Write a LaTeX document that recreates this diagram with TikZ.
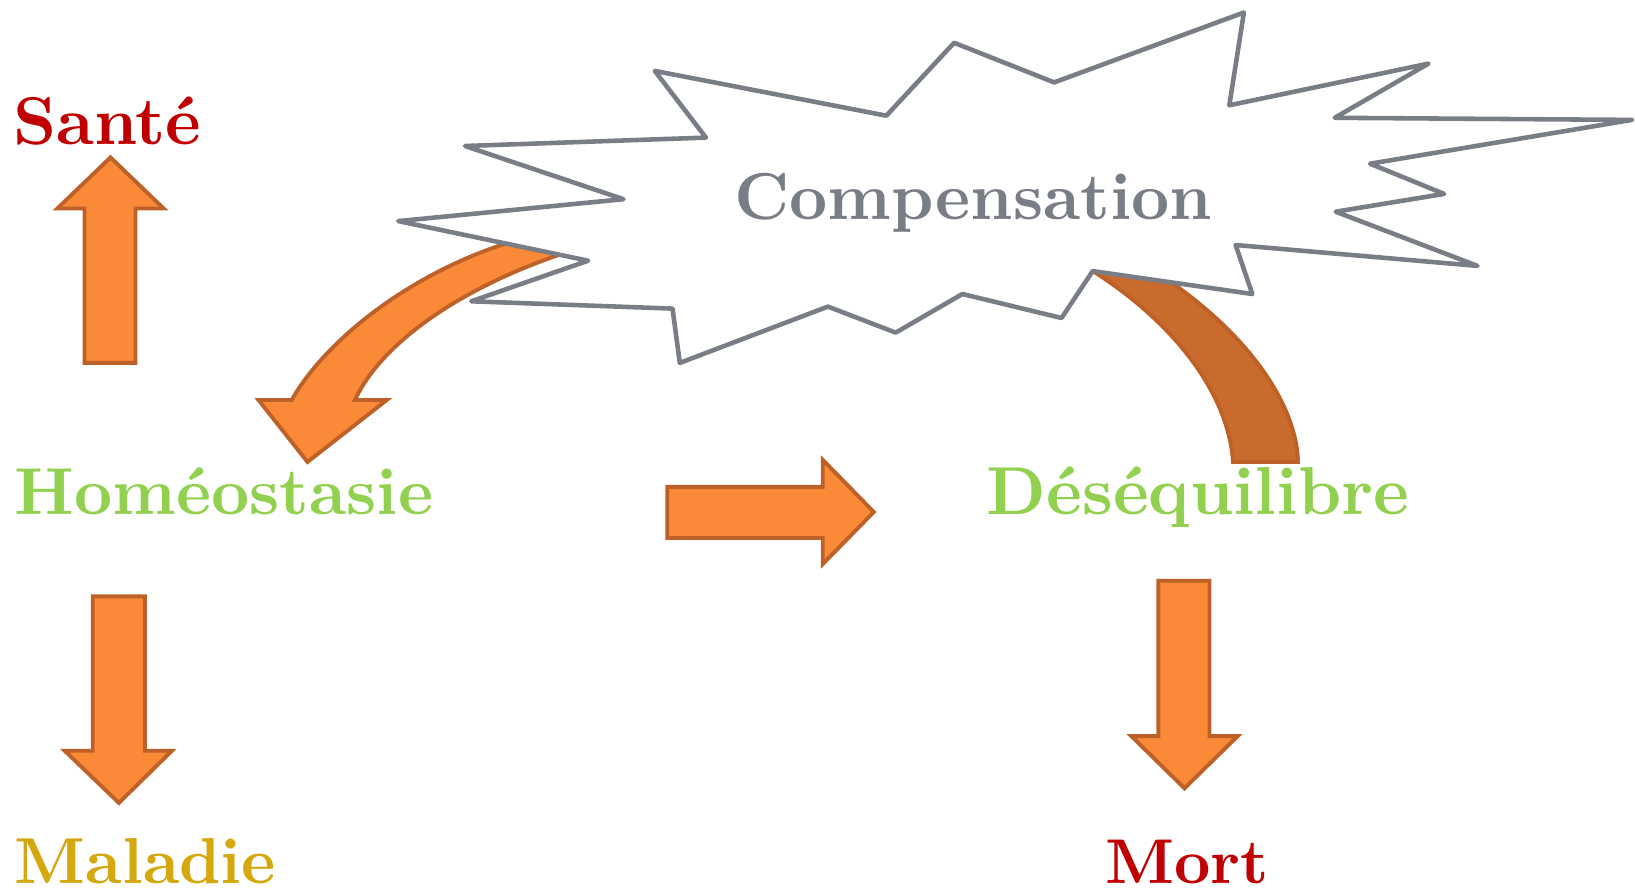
\documentclass[tikz,border=0pt]{standalone}
\usepackage{fontspec}
\newfontfamily\termfont{lmroman10-bold.otf}
\usepackage{tikz}
\usetikzlibrary{arrows.meta}
\usepackage{xcolor}
\definecolor{arrowfill}{HTML}{FA8A37}
\definecolor{arrowline}{HTML}{BD6128}
\definecolor{arrowdark}{HTML}{C96B2C}
\definecolor{burstline}{HTML}{787D86}
\definecolor{healthred}{HTML}{C00000}
\definecolor{balancegreen}{HTML}{92D050}
\definecolor{illgold}{HTML}{D4A80E}

\begin{document}
\begin{tikzpicture}[x=0.02cm,y=-0.02cm,line join=round,
  term/.style={inner sep=0pt,anchor=base west,font=\termfont\fontsize{#1}{40}\selectfont},
  term/.default=37.8,
  blockarrow/.style={fill=arrowfill,draw=arrowline,line width=2.2pt,line join=miter},
  burst/.style={fill=white,draw=burstline,line width=2.6pt}]
\useasboundingbox (0,0) rectangle (1635,892);
% curved arrows, under the burst
\draw[blockarrow] (291.7,400) .. controls (325,340) and (420,262) .. (540,234) -- (580,248)
  .. controls (460,285) and (380,345) .. (355,400) -- (386.8,400) -- (307.5,462) -- (258.5,400) -- cycle;
\draw[blockarrow,fill=arrowdark] (1233,462) .. controls (1228,390) and (1170,320) .. (1092.7,271) -- (1150,268)
  .. controls (1255,335) and (1297,410) .. (1298,462) -- cycle;
% burst
\draw[burst] (654.8,70.9) -- (705.9,137.6) -- (465.0,146.0) -- (623.5,199.2) -- (398.3,221.1)
  -- (588.1,260.7) -- (471.3,301.3) -- (672.5,308.6) -- (679.8,362.9) -- (827.9,306.6)
  -- (895.7,332.6) -- (962.4,294.0) -- (1061.5,318.0) -- (1092.7,271.1) -- (1252.3,294.0)
  -- (1235.6,245.0) -- (1477.5,265.9) -- (1335.7,211.7) -- (1444.1,193.9) -- (1370.1,163.7)
  -- (1631.8,119.9) -- (1334.7,117.8) -- (1428.5,63.6) -- (1229.3,105.3) -- (1243.9,12.5)
  -- (1054.2,82.4) -- (954.1,42.8) -- (886.3,115.7) -- cycle;
\node[term,text=burstline] (comp) at (734,219) {Compensation};
% states
\node[term=38.5,text=healthred] (sante) at (13,144) {Santé};
\node[term,text=balancegreen] (homeo) at (14.6,514) {Homéostasie};
\node[term=37,text=illgold] (maladie) at (14.6,883) {Maladie};
\node[term=38.6,text=balancegreen] (deseq) at (986.4,514) {Déséquilibre};
\node[term=36,text=healthred] (mort) at (1105,883) {Mort};
% straight arrows
\draw[blockarrow] (84.5,362.9) -- (84.5,208.5) -- (57.3,208.5) -- (110.5,157.4) -- (163.7,208.5)
  -- (135.5,208.5) -- (135.5,362.9) -- cycle;
\draw[blockarrow] (92.8,596.4) -- (144.9,596.4) -- (144.9,750.7) -- (172,750.7) -- (118.9,802.9)
  -- (64.6,750.7) -- (92.8,750.7) -- cycle;
\draw[blockarrow] (667.3,486.9) -- (822.7,486.9) -- (822.7,459.8) -- (873.8,512) -- (822.7,564.1)
  -- (822.7,538) -- (667.3,538) -- cycle;
\draw[blockarrow] (1158.4,580.8) -- (1209.5,580.8) -- (1209.5,736.1) -- (1237.7,736.1) -- (1184.5,788.3)
  -- (1131.3,736.1) -- (1158.4,736.1) -- cycle;
\end{tikzpicture}
\end{document}
